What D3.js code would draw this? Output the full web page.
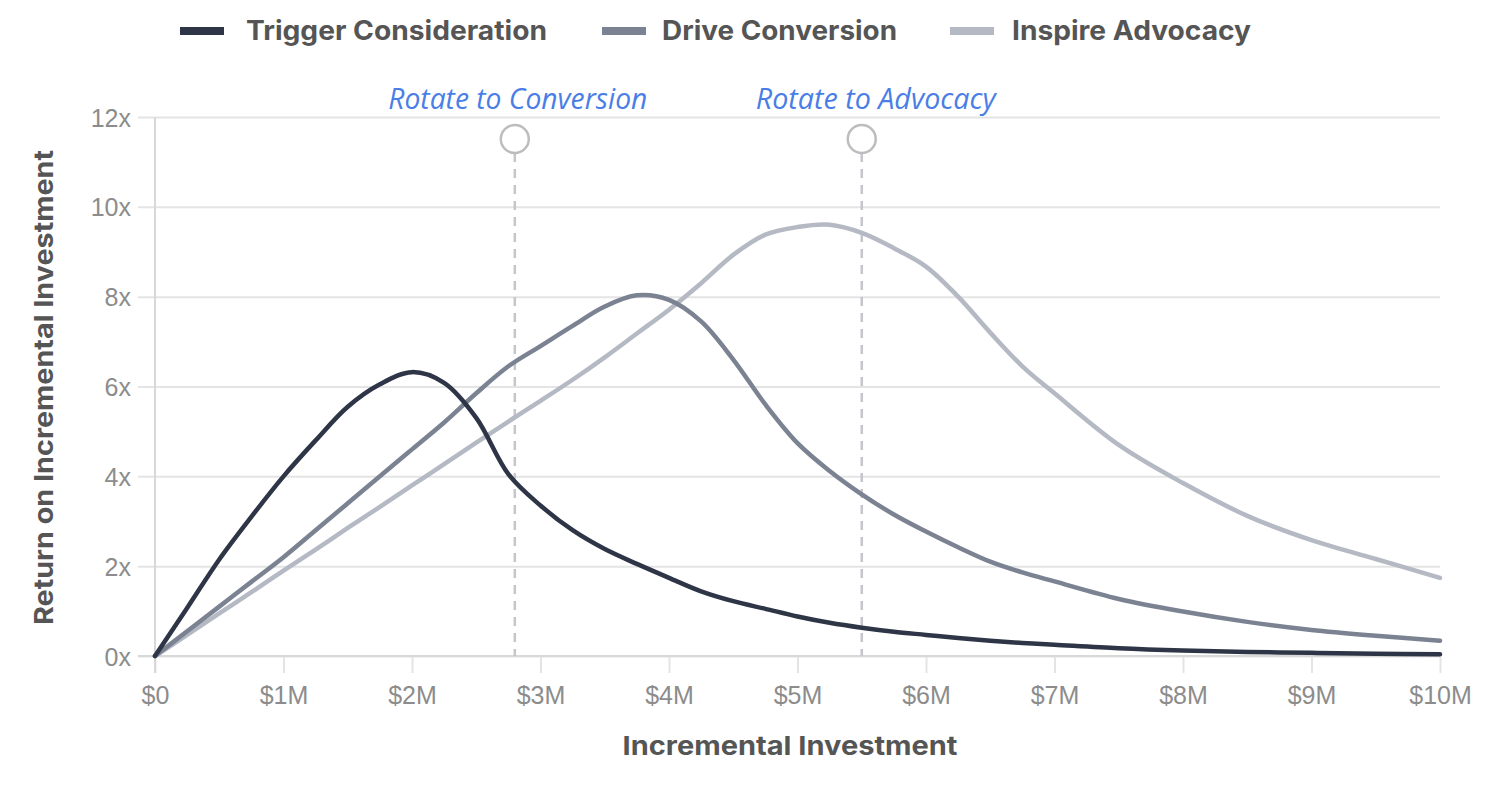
<!DOCTYPE html>
<html>
<head>
<meta charset="utf-8">
<script src="https://cdn.jsdelivr.net/npm/d3@7"></script>
<style>
  body { margin: 0; background: #fff; }
  svg { display: block; }
</style>
</head>
<body>
<div id="chart"></div>
<script>
// Investment levels in $M
const investment = [0, 0.25, 0.5, 0.75, 1, 1.25, 1.5, 1.75, 2, 2.25, 2.5, 2.75, 3, 3.25, 3.5, 3.75, 4,
  4.25, 4.5, 4.75, 5, 5.25, 5.5, 5.75, 6, 6.25, 6.5, 6.75, 7, 7.5, 8, 8.5, 9, 9.5, 10];

// Return multiples per series
const triggerConsideration = [0, 1.07, 2.15, 3.1, 4.0, 4.8, 5.55, 6.05, 6.32, 6.08, 5.3, 4.05, 3.35, 2.8, 2.38,
  2.05, 1.74, 1.44, 1.22, 1.05, 0.88, 0.74, 0.63, 0.54, 0.47, 0.4, 0.34, 0.29, 0.25, 0.17, 0.12, 0.09, 0.07, 0.05, 0.04];
const driveConversion = [0, 0.55, 1.1, 1.65, 2.2, 2.8, 3.4, 4.0, 4.6, 5.2, 5.85, 6.45, 6.9, 7.35, 7.78,
  8.03, 7.93, 7.45, 6.6, 5.6, 4.74, 4.12, 3.6, 3.15, 2.77, 2.42, 2.1, 1.86, 1.66, 1.27, 0.99, 0.76, 0.58, 0.45, 0.34];
const inspireAdvocacy = [0, 0.47, 0.95, 1.42, 1.9, 2.37, 2.85, 3.32, 3.8, 4.27, 4.75, 5.22, 5.68, 6.15, 6.65,
  7.18, 7.71, 8.3, 8.93, 9.38, 9.55, 9.6, 9.42, 9.08, 8.67, 8.0, 7.2, 6.45, 5.85, 4.7, 3.85, 3.12, 2.58, 2.16, 1.74];

const seriesNames = ['Trigger Consideration', 'Drive Conversion', 'Inspire Advocacy'];
const seriesColors = ['#2e3546', '#7b8392', '#b4b9c3'];

const xTicks = [0, 1, 2, 3, 4, 5, 6, 7, 8, 9, 10];
const xTickLabels = ['$0', '$1M', '$2M', '$3M', '$4M', '$5M', '$6M', '$7M', '$8M', '$9M', '$10M'];
const yTicks = [0, 2, 4, 6, 8, 10, 12];
const yTickLabels = ['0x', '2x', '4x', '6x', '8x', '10x', '12x'];

// Rotation markers
const markerLabels = ['Rotate to Conversion', 'Rotate to Advocacy'];
const markerPositions = [2.8, 5.5];

const width = 1485;
const height = 786;
const margin = { top: 117, right: 45, bottom: 130, left: 155 };

const svg = d3.select('#chart')
  .append('svg')
  .attr('width', width)
  .attr('height', height);

const x = d3.scaleLinear()
  .domain([0, 10])
  .range([margin.left, width - margin.right]);

const y = d3.scaleLinear()
  .domain([0, 12])
  .range([height - margin.bottom, margin.top]);

const labelFont = "'Liberation Sans', Arial, sans-serif";
const titleFont = "Inter, 'Open Sans', sans-serif";

// Horizontal grid + y ticks
const yAxis = svg.append('g')
  .attr('transform', `translate(${margin.left},0)`)
  .call(d3.axisLeft(y)
    .tickValues(yTicks)
    .tickFormat((d, i) => yTickLabels[i])
    .tickSize(-(width - margin.left - margin.right))
    .tickSizeOuter(0));
yAxis.select('.domain').remove();
yAxis.selectAll('.tick line')
  .attr('x1', -17)
  .attr('stroke', '#e4e4e4')
  .attr('stroke-width', 2);
yAxis.selectAll('.tick text')
  .attr('x', -24)
  .attr('dy', '0.36em')
  .style('font-family', labelFont)
  .style('font-size', '25px')
  .attr('fill', '#8c8c8c');

// Vertical grid + x ticks
const xAxis = svg.append('g')
  .attr('transform', `translate(0,${height - margin.bottom})`)
  .call(d3.axisBottom(x)
    .tickValues(xTicks)
    .tickFormat((d, i) => xTickLabels[i])
    .tickSize(-(height - margin.top - margin.bottom))
    .tickSizeOuter(0));
xAxis.select('.domain').remove();
xAxis.selectAll('.tick line')
  .attr('y2', 17)
  .attr('stroke', '#e4e4e4')
  .attr('stroke-width', 2);
xAxis.selectAll('.tick text')
  .attr('y', 48)
  .attr('dy', 0)
  .style('font-family', labelFont)
  .style('font-size', '25px')
  .attr('fill', '#8c8c8c');

// Baseline
svg.append('line')
  .attr('x1', x(0) - 17)
  .attr('x2', x(10))
  .attr('y1', y(0))
  .attr('y2', y(0))
  .attr('stroke', '#d8d8d8')
  .attr('stroke-width', 2);
svg.append('line')
  .attr('x1', x(0))
  .attr('x2', x(0))
  .attr('y1', y(12))
  .attr('y2', y(0) + 17)
  .attr('stroke', '#d8d8d8')
  .attr('stroke-width', 2);

// Dashed rotation markers
const labelWidths = [259, 240];
markerPositions.forEach((m, i) => {
  svg.append('line')
    .attr('x1', x(m))
    .attr('x2', x(m))
    .attr('y1', y(12) + 36)
    .attr('y2', y(0))
    .attr('stroke', '#c4c6cc')
    .attr('stroke-width', 2.5)
    .attr('stroke-dasharray', '9,7');
  svg.append('circle')
    .attr('cx', x(m))
    .attr('cy', y(12) + 22)
    .attr('r', 14)
    .attr('fill', '#fff')
    .attr('stroke', '#bdbdbd')
    .attr('stroke-width', 2.5);
  svg.append('text')
    .attr('x', x(m) + (i === 0 ? 3 : 14))
    .attr('y', y(12) - 8)
    .attr('text-anchor', 'middle')
    .attr('textLength', labelWidths[i])
    .attr('lengthAdjust', 'spacingAndGlyphs')
    .style('font-family', "'Open Sans', sans-serif")
    .style('font-style', 'italic')
    .style('font-size', '29px')
    .attr('fill', '#4a7ee6')
    .text(markerLabels[i]);
});

// Lines
const seriesData = [triggerConsideration, driveConversion, inspireAdvocacy];
const line = d3.line()
  .x((d, i) => x(investment[i]))
  .y(d => y(d))
  .curve(d3.curveCatmullRom.alpha(0.5));

// draw lightest first so darker lines sit on top
[2, 1, 0].forEach(k => {
  svg.append('path')
    .datum(seriesData[k])
    .attr('d', line)
    .attr('fill', 'none')
    .attr('stroke', seriesColors[k])
    .attr('stroke-width', 4.5)
    .attr('stroke-linecap', 'round')
    .attr('stroke-linejoin', 'round');
});

// Legend
const legendX = [180, 602, 950];
const legendTextX = [246, 662, 1012];
const legendTextW = [301, 235, 239];
const legend = svg.append('g');
seriesNames.forEach((name, i) => {
  legend.append('rect')
    .attr('x', legendX[i])
    .attr('y', 27)
    .attr('width', 44)
    .attr('height', 8)
    .attr('fill', seriesColors[i]);
  legend.append('text')
    .attr('x', legendTextX[i])
    .attr('y', 40)
    .attr('textLength', legendTextW[i])
    .attr('lengthAdjust', 'spacingAndGlyphs')
    .style('font-family', titleFont)
    .style('font-weight', 700)
    .style('font-size', '27px')
    .attr('fill', '#555')
    .text(name);
});

// Axis titles
svg.append('text')
  .attr('x', 790)
  .attr('y', 755)
  .attr('text-anchor', 'middle')
  .attr('textLength', 335)
  .attr('lengthAdjust', 'spacingAndGlyphs')
  .style('font-family', titleFont)
  .style('font-weight', 700)
  .style('font-size', '26px')
  .attr('fill', '#555')
  .text('Incremental Investment');

svg.append('text')
  .attr('transform', `translate(53,${(y(0) + y(12)) / 2 + 1}) rotate(-90)`)
  .attr('text-anchor', 'middle')
  .attr('textLength', 475)
  .attr('lengthAdjust', 'spacingAndGlyphs')
  .style('font-family', titleFont)
  .style('font-weight', 700)
  .style('font-size', '26px')
  .attr('fill', '#555')
  .text('Return on Incremental Investment');
</script>
</body>
</html>
